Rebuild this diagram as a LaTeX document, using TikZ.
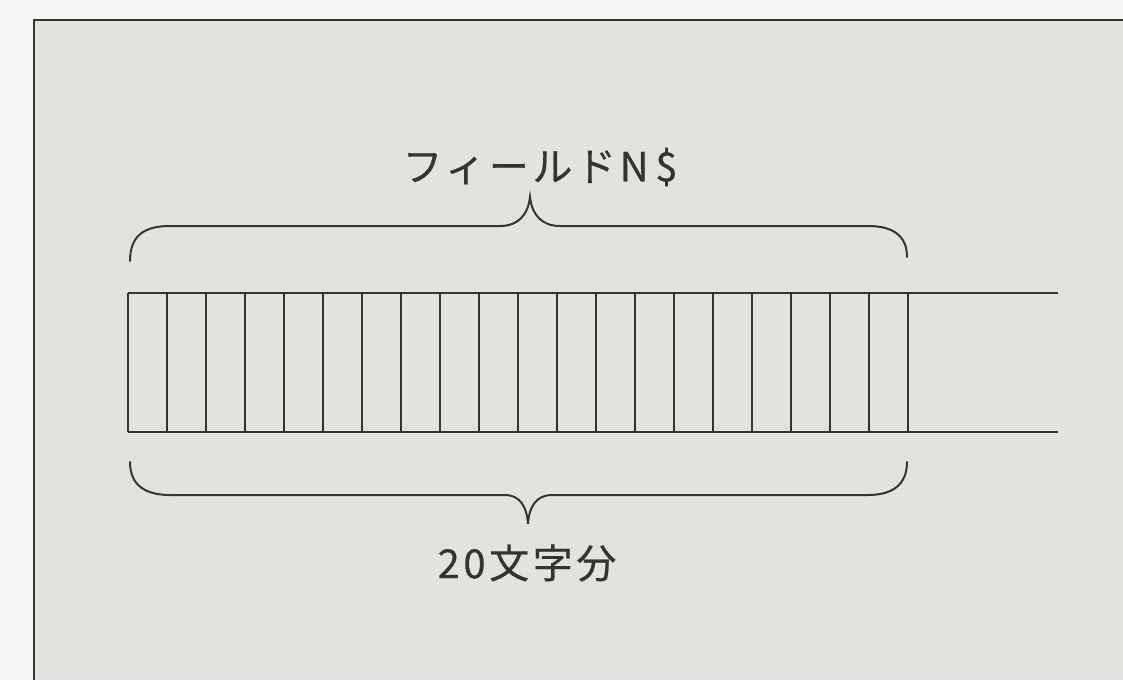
\documentclass[tikz,border=0pt]{standalone}
\usepackage{fontspec}
\newfontfamily\jpfont[LetterSpace=9,FakeBold=0.5]{Noto Sans CJK JP}
\definecolor{paper}{HTML}{E4E2DE}
\definecolor{outside}{HTML}{F6F6F6}
\definecolor{ink}{HTML}{353430}
\begin{document}
\begin{tikzpicture}[x=1pt,y=-1pt,
  rule/.style={draw=ink,line width=2pt},
  brace/.style={draw=ink,line width=2pt,line cap=round},
  label/.style={font=\jpfont\fontsize{40}{40}\selectfont,text=ink,inner sep=0pt}]
\fill[outside] (0,0) rectangle (1123,680);
\useasboundingbox (0,0) rectangle (1123,680);
% frame
\fill[paper] (34,20) rectangle (1123,680);
\draw[draw=ink,line width=2.5pt] (34,680) -- (34,20) -- (1123,20);
% field cells
\coordinate (tl) at (128,293);
\coordinate (bl) at (128,432);
\coordinate (tr) at (1058,293);
\coordinate (br) at (1058,432);
\draw[rule] (tl) -- (tr);
\draw[rule] (bl) -- (br);
\foreach \i in {0,...,20}{
  \draw[rule] (128+39*\i,293) -- (128+39*\i,432);
}
% top brace
\draw[brace] (130,261) .. controls (130,235) and (145,226) .. (170,226)
  -- (500,226) .. controls (518,226) and (528,215) .. (530,197)
  .. controls (532,215) and (542,226) .. (560,226)
  -- (868,226) .. controls (892,226) and (907,235) .. (907,257);
% bottom brace
\draw[brace] (130,462) .. controls (130,485) and (145,495) .. (170,495)
  -- (505,495) .. controls (520,495) and (527,507) .. (528,524)
  .. controls (529,507) and (536,495) .. (552,495)
  -- (868,495) .. controls (892,495) and (907,485) .. (907,462);
% labels
\node[label] (name) at (540,167) {フィールドN\,\$};
\node[label] (len) at (527,563) {20文字分};
\end{tikzpicture}
\end{document}
